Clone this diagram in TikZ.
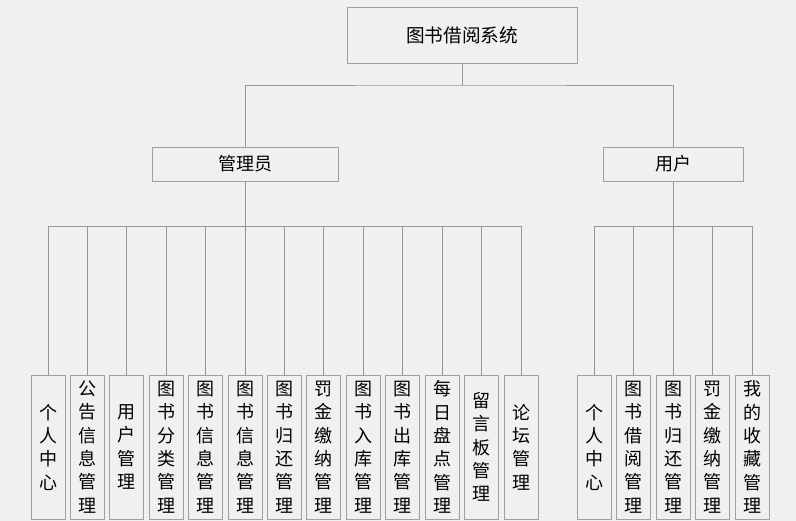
\documentclass[tikz,border=0pt]{standalone}
\usepackage{fontspec}
\newfontfamily\cjk{Noto Sans CJK SC}
\definecolor{bgcol}{RGB}{240,240,240}
\definecolor{boxline}{RGB}{160,160,160}
\definecolor{wire}{RGB}{150,150,150}
\tikzset{every picture/.style={line width=0.75pt}}
\tikzset{
  topbox/.style={draw=boxline, minimum width=172.5pt, minimum height=42pt, inner sep=0pt, font=\cjk\fontsize{14}{17}\selectfont},
  rolebox/.style={draw=boxline, minimum height=25.5pt, inner sep=0pt, font=\cjk\fontsize{13.5}{17}\selectfont},
  leafbox/.style={draw=boxline, minimum width=25.5pt, minimum height=108pt, inner sep=0pt, align=center, font=\cjk\fontsize{13.5}{17.5}\selectfont},
  wireline/.style={draw=wire}
}

\begin{document}
\begin{tikzpicture}[x=0.75pt,y=0.75pt,yscale=-1,xscale=1]
	%background and page size
	\fill[bgcol] (0,0) rectangle (796,521);
	\useasboundingbox (0,0) rectangle (796,521);

	% Root
	\node[topbox] (sys) at (462,35) {图书借阅系统};
	% Roles
	\node[rolebox, minimum width=140pt] (admin) at (245.5,164) {管理员};
	\node[rolebox, minimum width=105pt] (user) at (673,164) {用户};

	%bus coordinates
	\coordinate (topbus) at (462,85);
	\coordinate (adminbus) at (245.5,226);
	\coordinate (userbus) at (673,226);

	\draw[wireline] (sys.south) -- (topbus);
	\draw[wireline] (admin.north) |- (topbus) -| (user.north);
	\draw[wireline] (admin.south) -- (adminbus);
	\draw[wireline] (user.south) -- (userbus);

	% Admin leaves
	\foreach \i/\t in {0/{个\\人\\中\\心}, 1/{公\\告\\信\\息\\管\\理}, 2/{用\\户\\管\\理}, 3/{图\\书\\分\\类\\管\\理}, 4/{图\\书\\信\\息\\管\\理}, 5/{图\\书\\信\\息\\管\\理}, 6/{图\\书\\归\\还\\管\\理}, 7/{罚\\金\\缴\\纳\\管\\理}, 8/{图\\书\\入\\库\\管\\理}, 9/{图\\书\\出\\库\\管\\理}, 10/{每\\日\\盘\\点\\管\\理}, 11/{留\\言\\板\\管\\理}, 12/{论\\坛\\管\\理}}{
		\node[leafbox] (a\i) at (48+39.42*\i,447) {\t};
		\draw[wireline] (a\i.north) |- (adminbus);
	}

	% User leaves
	\foreach \i/\t in {0/{个\\人\\中\\心}, 1/{图\\书\\借\\阅\\管\\理}, 2/{图\\书\\归\\还\\管\\理}, 3/{罚\\金\\缴\\纳\\管\\理}, 4/{我\\的\\收\\藏\\管\\理}}{
		\node[leafbox] (u\i) at (594+39.5*\i,447) {\t};
		\draw[wireline] (u\i.north) |- (userbus);
	}

\end{tikzpicture}
\end{document}
